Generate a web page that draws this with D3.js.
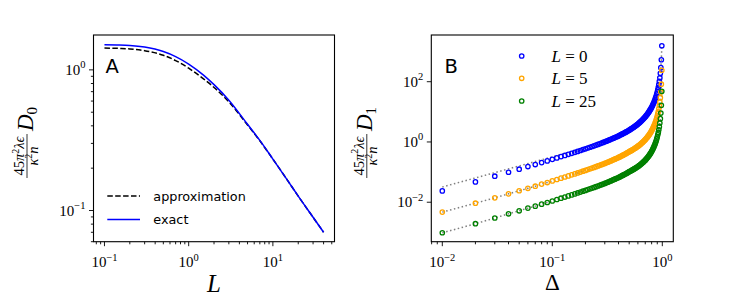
<!DOCTYPE html>
<html><head><meta charset="utf-8">
<script src="https://cdn.jsdelivr.net/npm/d3@7"></script>
<style>
body{margin:0;background:#fff;}
svg{display:block;}
</style></head><body>
<svg id="c" width="748" height="303"></svg>
<script>
// ---------------- Panel A data ----------------
const L_values   = [0.1,0.15,0.2,0.3,0.5,0.7,1,1.5,2,3,5,7,10,15,20,30,40];
const D0_exact   = [1.51,1.504,1.492,1.452,1.350,1.243,1.100,0.918,0.785,0.609,0.41,0.315,0.232,0.163,0.1265,0.0895,0.070];
const D0_approx  = [1.43,1.421,1.408,1.370,1.270,1.165,1.028,0.863,0.750,0.592,0.406,0.313,0.232,0.163,0.1265,0.0895,0.070];
const A_xTickExps = [-1,0,1];
const A_yTickExps = [-1,0];
const A_legend = ["approximation","exact"];

// ---------------- Panel B data ----------------
const delta_values = [0.01,0.02,0.03,0.04,0.05,0.06,0.07,0.08,0.09,0.10,
0.11,0.12,0.13,0.14,0.15,0.16,0.17,0.18,0.19,0.20,
0.21,0.22,0.23,0.24,0.25,0.26,0.27,0.28,0.29,0.30,
0.31,0.32,0.33,0.34,0.35,0.36,0.37,0.38,0.39,0.40,
0.41,0.42,0.43,0.44,0.45,0.46,0.47,0.48,0.49,0.50,
0.51,0.52,0.53,0.54,0.55,0.56,0.57,0.58,0.59,0.60,
0.61,0.62,0.63,0.64,0.65,0.66,0.67,0.68,0.69,0.70,
0.71,0.72,0.73,0.74,0.75,0.76,0.77,0.78,0.79,0.80,
0.81,0.82,0.83,0.84,0.85,0.86,0.87,0.88,0.89,0.90,
0.91,0.92,0.93,0.94,0.95,0.96,0.97,0.98,0.99];
const D1_L0 = [0.0238,0.0473,0.073,0.099,0.125,0.153,0.178,0.207,0.235,0.265,
0.296,0.327,0.357,0.389,0.421,0.453,0.487,0.521,0.557,0.593,
0.630,0.668,0.706,0.746,0.787,0.830,0.873,0.919,0.964,1.01,
1.06,1.11,1.17,1.22,1.28,1.34,1.40,1.46,1.52,1.59,
1.66,1.74,1.82,1.90,1.98,2.07,2.16,2.26,2.36,2.47,
2.58,2.70,2.83,2.96,3.10,3.25,3.41,3.58,3.76,3.95,
4.15,4.37,4.61,4.86,5.13,5.42,5.74,6.08,6.45,6.85,
7.30,7.79,8.31,8.91,9.56,10.3,11.1,12.0,13.0,14.2,
15.5,17.0,18.8,20.8,23.2,26.0,29.4,33.6,38.8,45.2,
53.6,64.7,80.0,102,135,190,293,535,1560];
const D1_L5 = [0.0047,0.0093,0.014,0.019,0.024,0.029,0.034,0.040,0.045,0.051,
0.0569,0.0629,0.0687,0.0748,0.0810,0.0871,0.0937,0.100,0.107,0.114,
0.121,0.128,0.136,0.143,0.151,0.160,0.168,0.177,0.185,0.194,
0.204,0.213,0.225,0.235,0.246,0.258,0.269,0.281,0.292,0.306,
0.319,0.335,0.350,0.365,0.381,0.398,0.415,0.435,0.454,0.475,
0.494,0.514,0.536,0.558,0.581,0.606,0.633,0.661,0.691,0.723,
0.756,0.792,0.831,0.872,0.916,0.964,1.016,1.071,1.131,1.195,
1.268,1.347,1.430,1.527,1.631,1.749,1.876,2.02,2.18,2.37,
2.57,2.81,3.09,3.41,3.79,4.22,4.76,5.41,6.22,7.22,
8.53,10.2,12.6,16.0,21.1,29.6,45.5,82.7,240];
const D1_L25 = [0.00097,0.00194,0.0030,0.00413,0.0052,0.00638,0.00742,0.00863,0.0098,0.0110,
0.01233,0.01363,0.01488,0.01621,0.01754,0.01888,0.02029,0.02171,0.02321,0.02471,
0.02625,0.02783,0.02942,0.03108,0.03279,0.03458,0.03638,0.03829,0.04017,0.04208,
0.04417,0.04625,0.04875,0.05083,0.05333,0.05583,0.05833,0.06083,0.06333,0.06625,
0.06917,0.0725,0.07583,0.07917,0.0825,0.08625,0.0900,0.09417,0.09833,0.1029,
0.1067,0.1109,0.1154,0.1199,0.1246,0.1298,0.1353,0.1410,0.1471,0.1535,
0.1602,0.1676,0.1756,0.1839,0.1929,0.2024,0.2130,0.2242,0.2363,0.2494,
0.2641,0.2800,0.2969,0.3164,0.3373,0.3613,0.3870,0.4158,0.4478,0.4861,
0.5276,0.5753,0.6324,0.6957,0.7715,0.8595,0.9665,1.098,1.261,1.461,
1.723,2.068,2.543,3.225,4.244,5.941,9.114,16.55,48.0];
// theory (gray dotted) curve for L = 0
const theory_delta = [0.01,0.02,0.03,0.05,0.07,0.1,0.15,0.2,0.3,0.4,0.5,0.6,0.7,0.8,0.85,0.9,0.93,0.95,0.96,0.97,0.98,0.99];
const theory_L0    = [0.032,0.064,0.096,0.16,0.224,0.32,0.48,0.65,1.06,1.62,2.49,3.95,6.85,14.2,23.2,45.2,80,135,190,293,535,1560];
const B_legend = ["0","5","25"];
const B_xTickExps = [-2,-1,0];
const B_yTickExps = [-2,0,2];

// ---------------- drawing ----------------
const svg = d3.select("#c");
svg.append("rect").attr("width",748).attr("height",303).attr("fill","#fff");
const SERIF = "'Liberation Serif','DejaVu Serif',serif";
const SANS = "'DejaVu Sans',sans-serif";

const PA = {l:93.5, r:334.5, t:35, b:241.7};
const PB = {l:431.3, r:673.3, t:35, b:241.7};
const xA = d3.scaleLog().domain([0.0741, 53.9]).range([PA.l, PA.r]);
const yA = d3.scaleLog().domain([0.0600, 1.77]).range([PA.b, PA.t]);
const xB = d3.scaleLog().domain([Math.pow(10,-2.1), Math.pow(10,0.1)]).range([PB.l, PB.r]);
const yB = d3.scaleLog().domain([Math.pow(10,-3.31), Math.pow(10,3.55)]).range([PB.b, PB.t]);

function isPow10(v){ const l=Math.log10(v); return Math.abs(l-Math.round(l))<1e-9; }

function powLabel(g, x, y, exp, anchor){
  const t = g.append("text").attr("x",x).attr("y",y).attr("text-anchor",anchor)
    .attr("font-family",SERIF).attr("font-size",15).attr("fill","#000");
  t.append("tspan").text("10");
  t.append("tspan").attr("dy",-6.5).attr("font-size",10.5).text(exp<0 ? "\u2212"+(-exp) : String(exp));
}

function drawAxes(P, x, y, xExps, yExps, xMinor, yMinor){
  const g = svg.append("g");
  const tick = (x1,y1,x2,y2)=>g.append("line").attr("x1",x1).attr("y1",y1).attr("x2",x2).attr("y2",y2)
      .attr("stroke","#000").attr("stroke-width",0.9);
  if (xMinor) x.ticks().filter(v=>!isPow10(v)).forEach(v=>{ const px=x(v); tick(px,P.b,px,P.b+2.6); });
  if (yMinor) y.ticks().filter(v=>!isPow10(v)).forEach(v=>{ const py=y(v); tick(P.l,py,P.l-2.6,py); });
  xExps.forEach(e=>{ const px=x(Math.pow(10,e)); tick(px,P.b,px,P.b+4.5); powLabel(g,px,267,e,"middle"); });
  yExps.forEach(e=>{ const py=y(Math.pow(10,e)); tick(P.l,py,P.l-4.5,py); powLabel(g,P.l-8,py+5,e,"end"); });
  return g;
}

// clip paths
const defs = svg.append("defs");
defs.append("clipPath").attr("id","clipA").append("rect").attr("x",PA.l).attr("y",PA.t).attr("width",PA.r-PA.l).attr("height",PA.b-PA.t);
defs.append("clipPath").attr("id","clipB").append("rect").attr("x",PB.l-3).attr("y",PB.t).attr("width",PB.r-PB.l+3).attr("height",PB.b-PB.t);

// ---------- Panel A ----------
drawAxes(PA, xA, yA, A_xTickExps, A_yTickExps, true, true);
const gA = svg.append("g").attr("clip-path","url(#clipA)");
const lineA = d3.line().x(d=>xA(d[0])).y(d=>yA(d[1])).curve(d3.curveMonotoneX);
gA.append("path").datum(L_values.map((v,i)=>[v,D0_approx[i]])).attr("d",lineA)
  .attr("fill","none").attr("stroke","#000").attr("stroke-width",1.5).attr("stroke-dasharray","5.5,2.4");
gA.append("path").datum(L_values.map((v,i)=>[v,D0_exact[i]])).attr("d",lineA)
  .attr("fill","none").attr("stroke","#0000ff").attr("stroke-width",1.5);
svg.append("rect").attr("x",PA.l).attr("y",PA.t).attr("width",PA.r-PA.l).attr("height",PA.b-PA.t)
  .attr("fill","none").attr("stroke","#000").attr("stroke-width",1.1);
svg.append("text").attr("x",105.5).attr("y",72.7).attr("font-family",SANS).attr("font-size",19.5).text("A");
// legend A
const legA = [{y:196, dash:"5.5,2.4", c:"#000"},{y:219.5, dash:null, c:"#0000ff"}];
legA.forEach((d,i)=>{
  const ln = svg.append("line").attr("x1",107.3).attr("x2",140).attr("y1",d.y).attr("y2",d.y)
    .attr("stroke",d.c).attr("stroke-width",1.5);
  if (d.dash) ln.attr("stroke-dasharray",d.dash);
  svg.append("text").attr("x",153.3).attr("y",d.y+4.6).attr("font-family",SANS).attr("font-size",12.8).text(A_legend[i]);
});
// axis labels A
svg.append("text").attr("x",(PA.l+PA.r)/2).attr("y",292).attr("text-anchor","middle")
  .attr("font-family",SERIF).attr("font-style","italic").attr("font-size",25).text("L");

function yLabel(cx, cy, sub){
  const g = svg.append("g").attr("transform",`translate(${cx},${cy}) rotate(-90)`);
  const fc = -16; // fraction center (local x)
  const num = g.append("text").attr("x",fc).attr("y",-3).attr("text-anchor","middle")
    .attr("font-family",SERIF).attr("font-size",14.5);
  num.append("tspan").text("45");
  num.append("tspan").attr("font-style","italic").text("\u03c0");
  num.append("tspan").attr("dy",-5.5).attr("font-size",10).text("2");
  num.append("tspan").attr("dy",5.5).attr("font-style","italic").text("\u03bb\u03f5");
  g.append("line").attr("x1",fc-22).attr("x2",fc+22).attr("y1",0).attr("y2",0).attr("stroke","#000").attr("stroke-width",0.8);
  const den = g.append("text").attr("x",fc).attr("y",10.5).attr("text-anchor","middle")
    .attr("font-family",SERIF).attr("font-size",14.5);
  den.append("tspan").attr("font-style","italic").text("\u03ba");
  den.append("tspan").attr("dy",-5.5).attr("font-size",10).text("2");
  den.append("tspan").attr("dy",5.5).attr("font-style","italic").text("n");
  const D = g.append("text").attr("x",9).attr("y",5.5).attr("font-family",SERIF).attr("font-size",23);
  D.append("tspan").attr("font-style","italic").text("D");
  D.append("tspan").attr("dy",4).attr("font-size",15).text(sub);
}
yLabel(27, 140, "0");

// ---------- Panel B ----------
drawAxes(PB, xB, yB, B_xTickExps, B_yTickExps, true, false);
const gB = svg.append("g").attr("clip-path","url(#clipB)");
const lineB = d3.line().x(d=>xB(d[0])).y(d=>yB(d[1])).curve(d3.curveMonotoneX);
const series = [
  {vals:D1_L0, th:theory_delta.map((v,i)=>[v,theory_L0[i]]), c:"#0000ff"},
  {vals:D1_L5, th:delta_values.map((v,i)=>[v,D1_L5[i]]), c:"#ffa500"},
  {vals:D1_L25, th:delta_values.map((v,i)=>[v,D1_L25[i]]), c:"#008000"}
];
series.forEach(s=>{
  gB.append("path").datum(s.th).attr("d",lineB).attr("fill","none")
    .attr("stroke","#7f7f7f").attr("stroke-width",1.5).attr("stroke-dasharray","1.5,2.5");
});
series.forEach(s=>{
  gB.selectAll(null).data(delta_values.map((v,i)=>[v,s.vals[i]])).enter().append("circle")
    .attr("cx",d=>xB(d[0])).attr("cy",d=>yB(d[1])).attr("r",2.2)
    .attr("fill","none").attr("stroke",s.c).attr("stroke-width",1.3);
});
svg.append("rect").attr("x",PB.l).attr("y",PB.t).attr("width",PB.r-PB.l).attr("height",PB.b-PB.t)
  .attr("fill","none").attr("stroke","#000").attr("stroke-width",1.1);
svg.append("text").attr("x",444.5).attr("y",72.7).attr("font-family",SANS).attr("font-size",19.5).text("B");
// legend B
const legBy = [56, 78.3, 101];
series.forEach((s,i)=>{
  svg.append("circle").attr("cx",521.7).attr("cy",legBy[i]).attr("r",2.2)
    .attr("fill","none").attr("stroke",s.c).attr("stroke-width",1.3);
  const t = svg.append("text").attr("x",551.5).attr("y",legBy[i]+5.5).attr("font-family",SERIF).attr("font-size",17);
  t.append("tspan").attr("font-style","italic").text("L");
  t.append("tspan").text(" = " + B_legend[i]);
});
svg.append("text").attr("x",(PB.l+PB.r)/2).attr("y",290).attr("text-anchor","middle")
  .attr("font-family",SERIF).attr("font-size",23).text("\u0394");
yLabel(27+337.8+2, 140, "1");
</script>
</body></html>
